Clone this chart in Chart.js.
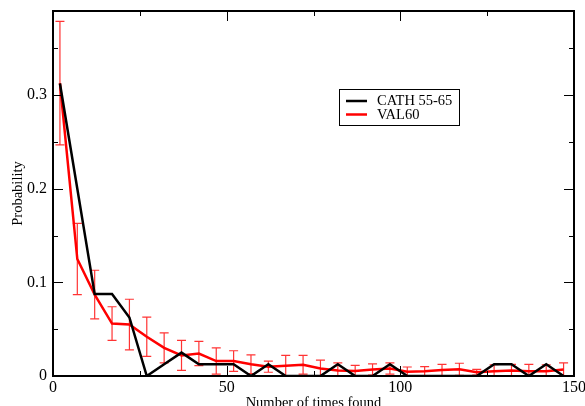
<!DOCTYPE html>
<html><head><meta charset="utf-8">
<script src="https://cdn.jsdelivr.net/npm/chart.js@4"></script>
<style>html,body{margin:0;padding:0;background:#fff;overflow:hidden;}</style>
</head><body>
<canvas id="c" width="585" height="406"></canvas>
<script>
const xValues = [2,7,12,17,22,27,32,37,42,47,52,57,62,67,72,77,82,87,92,97,102,107,112,117,122,127,132,137,142,147];
const cathValues = [0.3125,0.2,0.0875,0.0875,0.0625,0,0.0125,0.025,0.0125,0.0125,0.0125,0,0.0125,0,0,0,0.0125,0,0,0.0125,0,0,0,0,0,0.0125,0.0125,0,0.0125,0];
const val60Values = [0.313,0.125,0.087,0.056,0.055,0.042,0.030,0.022,0.024,0.016,0.016,0.0125,0.010,0.011,0.012,0.008,0.006,0.0053,0.007,0.008,0.0046,0.005,0.0064,0.0071,0.004,0.005,0.006,0.005,0.005,0.007];
const val60Errors = [0.066,0.038,0.026,0.018,0.027,0.021,0.016,0.016,0.013,0.014,0.011,0.010,0.006,0.011,0.010,0.009,0.008,0.006,0.006,0.006,0.005,0.005,0.006,0.0065,0.003,0.007,0.0065,0.0075,0.007,0.007];
const seriesLabels = ['CATH 55-65','VAL60'];
const seriesColors = ['#000000','#ff0000'];
const xTitle = 'Number of times found';
const yTitle = 'Probability';

const serif = "'Liberation Serif','Times New Roman',serif";

const decor = {
  id: 'decor',
  beforeDatasetsDraw(chart) {
    const ctx = chart.ctx, xs = chart.scales.x, ys = chart.scales.y;
    ctx.save();
    ctx.strokeStyle = 'rgba(255,0,0,0.8)';
    ctx.lineWidth = 1.2;
    for (let i = 0; i < xValues.length; i++) {
      const px = xs.getPixelForValue(xValues[i]);
      const top = ys.getPixelForValue(val60Values[i] + val60Errors[i]);
      const bot = ys.getPixelForValue(Math.max(0, val60Values[i] - val60Errors[i]));
      ctx.beginPath();
      ctx.moveTo(px, top); ctx.lineTo(px, bot);
      ctx.moveTo(px - 4.5, top); ctx.lineTo(px + 4.5, top);
      ctx.moveTo(px - 4.5, bot); ctx.lineTo(px + 4.5, bot);
      ctx.stroke();
    }
    ctx.restore();
  },
  afterDraw(chart) {
    const ctx = chart.ctx, a = chart.chartArea, xs = chart.scales.x, ys = chart.scales.y;
    ctx.save();
    ctx.strokeStyle = '#000';
    ctx.lineWidth = 1;
    ctx.beginPath();
    xs.ticks.forEach(t => {
      const px = Math.round(xs.getPixelForValue(t.value)) + 0.5;
      const len = t.label !== '' ? 10 : 5;
      ctx.moveTo(px, a.bottom); ctx.lineTo(px, a.bottom - len);
      ctx.moveTo(px, a.top); ctx.lineTo(px, a.top + len);
    });
    ys.ticks.forEach(t => {
      const py = Math.round(ys.getPixelForValue(t.value)) + 0.5;
      const len = t.label !== '' ? 10 : 5;
      ctx.moveTo(a.left, py); ctx.lineTo(a.left + len, py);
      ctx.moveTo(a.right, py); ctx.lineTo(a.right - len, py);
    });
    ctx.stroke();
    ctx.lineWidth = 2;
    ctx.strokeRect(a.left, a.top, a.right - a.left, a.bottom - a.top);
    // legend
    ctx.lineWidth = 1;
    ctx.strokeRect(339.5, 89.5, 120, 36);
    ctx.font = '14.5px ' + serif;
    ctx.textBaseline = 'middle';
    ctx.fillStyle = '#000';
    const rows = [101, 114.5];
    chart.data.datasets.forEach((d, i) => {
      ctx.strokeStyle = d.borderColor;
      ctx.lineWidth = 2.5;
      ctx.beginPath();
      ctx.moveTo(346, rows[i]); ctx.lineTo(367, rows[i]);
      ctx.stroke();
      ctx.fillText(d.label, 377, rows[i] + 0.5);
    });
    ctx.restore();
  }
};

new Chart(document.getElementById('c'), {
  type: 'line',
  data: {
    datasets: [
      { label: seriesLabels[0], data: xValues.map((x, i) => ({x, y: cathValues[i]})), borderColor: seriesColors[0], borderWidth: 2.5, pointRadius: 0, tension: 0, fill: false },
      { label: seriesLabels[1], data: xValues.map((x, i) => ({x, y: val60Values[i]})), borderColor: seriesColors[1], borderWidth: 2.5, pointRadius: 0, tension: 0, fill: false }
    ]
  },
  options: {
    responsive: false,
    animation: false,
    devicePixelRatio: 1,
    layout: { padding: { top: 11, right: 11, left: 0, bottom: 0 } },
    plugins: { legend: { display: false }, tooltip: { enabled: false } },
    scales: {
      x: {
        type: 'linear', min: 0, max: 150,
        grid: { display: false, drawTicks: false },
        border: { display: false },
        ticks: { stepSize: 25, includeBounds: false, autoSkip: false, maxRotation: 0, padding: 2, color: '#000',
          font: { family: serif, size: 16 },
          callback: v => (v % 50 === 0 ? String(v) : '') },
        title: { display: true, text: xTitle, color: '#000', font: { family: serif, size: 14.5, lineHeight: 1 }, padding: { top: 0, bottom: -4.5 } },
        afterFit: s => { s.height = 30; s.paddingLeft = 0; s.paddingRight = 0; }
      },
      y: {
        type: 'linear', min: 0, max: 0.39,
        grid: { display: false, drawTicks: false },
        border: { display: false },
        ticks: { stepSize: 0.05, includeBounds: false, autoSkip: false, padding: 6, color: '#000',
          font: { family: serif, size: 16 },
          callback: v => { const k = Math.round(v * 100); if (k % 10) return ''; return k === 0 ? '0' : (k / 100).toFixed(1); } },
        title: { display: true, text: yTitle, color: '#000', font: { family: serif, size: 14.5, lineHeight: 1 }, padding: { top: 11, bottom: 0 } },
        afterFit: s => { s.width = 53; s.paddingTop = 0; s.paddingBottom = 0; }
      }
    }
  },
  plugins: [decor]
});
</script>
</body></html>
